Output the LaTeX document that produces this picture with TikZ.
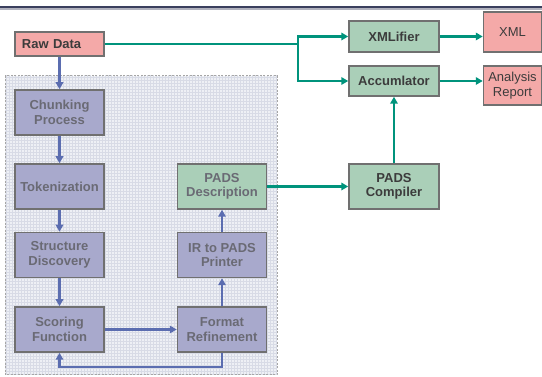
\documentclass[tikz,border=0pt]{standalone}
\usepackage{fontspec}
\setmainfont{Liberation Sans}
\usetikzlibrary{arrows.meta,patterns}
\definecolor{pinkfill}{HTML}{F4A9A8}
\definecolor{greenfill}{HTML}{AACFB8}
\definecolor{purplefill}{HTML}{A8A9CC}
\definecolor{boxborder}{HTML}{707070}
\definecolor{teal}{HTML}{00937C}
\definecolor{bluearrow}{HTML}{5B6DB0}
\definecolor{darktext}{HTML}{3C3C3C}
\definecolor{greytext}{HTML}{6A6A74}
\definecolor{regionfill}{HTML}{EEF0F5}
\definecolor{regiongrid}{HTML}{D8DBE6}
\definecolor{topline}{HTML}{3B3F5E}
\tikzset{
  base/.style={draw=boxborder, line width=1.5pt, inner sep=2pt, align=center, font=\fontsize{13}{14.5}\selectfont},
  pinkbox/.style={base, fill=pinkfill, text=darktext},
  greenbox/.style={base, fill=greenfill, text=darktext, font=\fontsize{13}{14.5}\selectfont\bfseries},
  purplebox/.style={base, fill=purplefill, text=greytext, font=\fontsize{13}{14.5}\selectfont\bfseries, minimum width=89pt, minimum height=45pt},
  tealarrow/.style={draw=teal, line width=2.4pt, -{Triangle[length=7pt,width=7.5pt]}},
  tealline/.style={draw=teal, line width=2.4pt},
  bluearr/.style={draw=bluearrow, line width=2.2pt, -{Triangle[length=7pt,width=7.5pt]}},
}
\begin{document}
\begin{tikzpicture}[x=1pt,y=-1pt]
\useasboundingbox (0,0) rectangle (542,377);
% top rule
\draw[topline!40, line width=1.5pt] (0,9) -- (542,9);
\draw[topline, line width=2pt] (0,7) -- (542,7);
% dotted region
\path[fill=regionfill] (5,76) rectangle (277,375);
\path[pattern=grid, pattern color=regiongrid] (5,76) rectangle (277,375);
\draw[draw=gray!70, line width=1pt, dash pattern=on 2pt off 1.5pt] (5,76) rectangle (277,375);
% nodes
\node[pinkbox, minimum width=89pt, minimum height=24pt, text width=75pt, align=left, font=\fontsize{13}{14.5}\selectfont\bfseries] (raw) at (59.5,44) {Raw Data};
\node[purplebox] (chunk) at (59.5,112.5) {Chunking\\Process};
\node[purplebox] (token) at (59.5,186.5) {Tokenization};
\node[purplebox] (struct) at (59.5,255) {Structure\\Discovery};
\node[purplebox] (score) at (59.5,329.5) {Scoring\\Function};
\node[purplebox] (format) at (222,329.5) {Format\\Refinement};
\node[purplebox] (ir) at (222,255) {IR to PADS\\Printer};
\node[greenbox, minimum width=89pt, minimum height=45pt, text=greytext] (desc) at (222,186.5) {PADS\\Description};
\node[greenbox, minimum width=90pt, minimum height=31pt] (xmlifier) at (394,36.5) {XMLifier};
\node[greenbox, minimum width=90pt, minimum height=30pt] (accum) at (394,81) {Accumlator};
\node[greenbox, minimum width=90pt, minimum height=45pt] (comp) at (394,186.5) {PADS\\Compiler};
\node[pinkbox, minimum width=58pt, minimum height=40pt] (xml) at (512.5,32) {XML};
\node[pinkbox, minimum width=58pt, minimum height=39pt] (report) at (512.5,85.5) {Analysis\\Report};
% blue arrows
\draw[bluearr] (raw) -- (chunk);
\draw[bluearr] (chunk) -- (token);
\draw[bluearr] (token) -- (struct);
\draw[bluearr] (struct) -- (score);
\draw[bluearr] (score) -- (format);
\draw[bluearr] (format) -- (ir);
\draw[bluearr] (ir) -- (desc);
\coordinate (fb1) at (222,367);
\coordinate (fb2) at (59.5,367);
\draw[bluearr] (format.south) -- (fb1) -- (fb2) -- (score.south);
% teal arrows
\coordinate (split) at (298,44);
\draw[tealline] (raw.east) -- (split);
\draw[tealarrow] (split) |- (xmlifier.west);
\draw[tealarrow] (split) |- (accum.west);
\draw[tealarrow] (xmlifier) -- (xmlifier -| xml.west);
\draw[tealarrow] (accum) -- (accum -| report.west);
\draw[tealarrow] (desc) -- (comp);
\draw[tealarrow] (comp) -- (accum);
\end{tikzpicture}
\end{document}
